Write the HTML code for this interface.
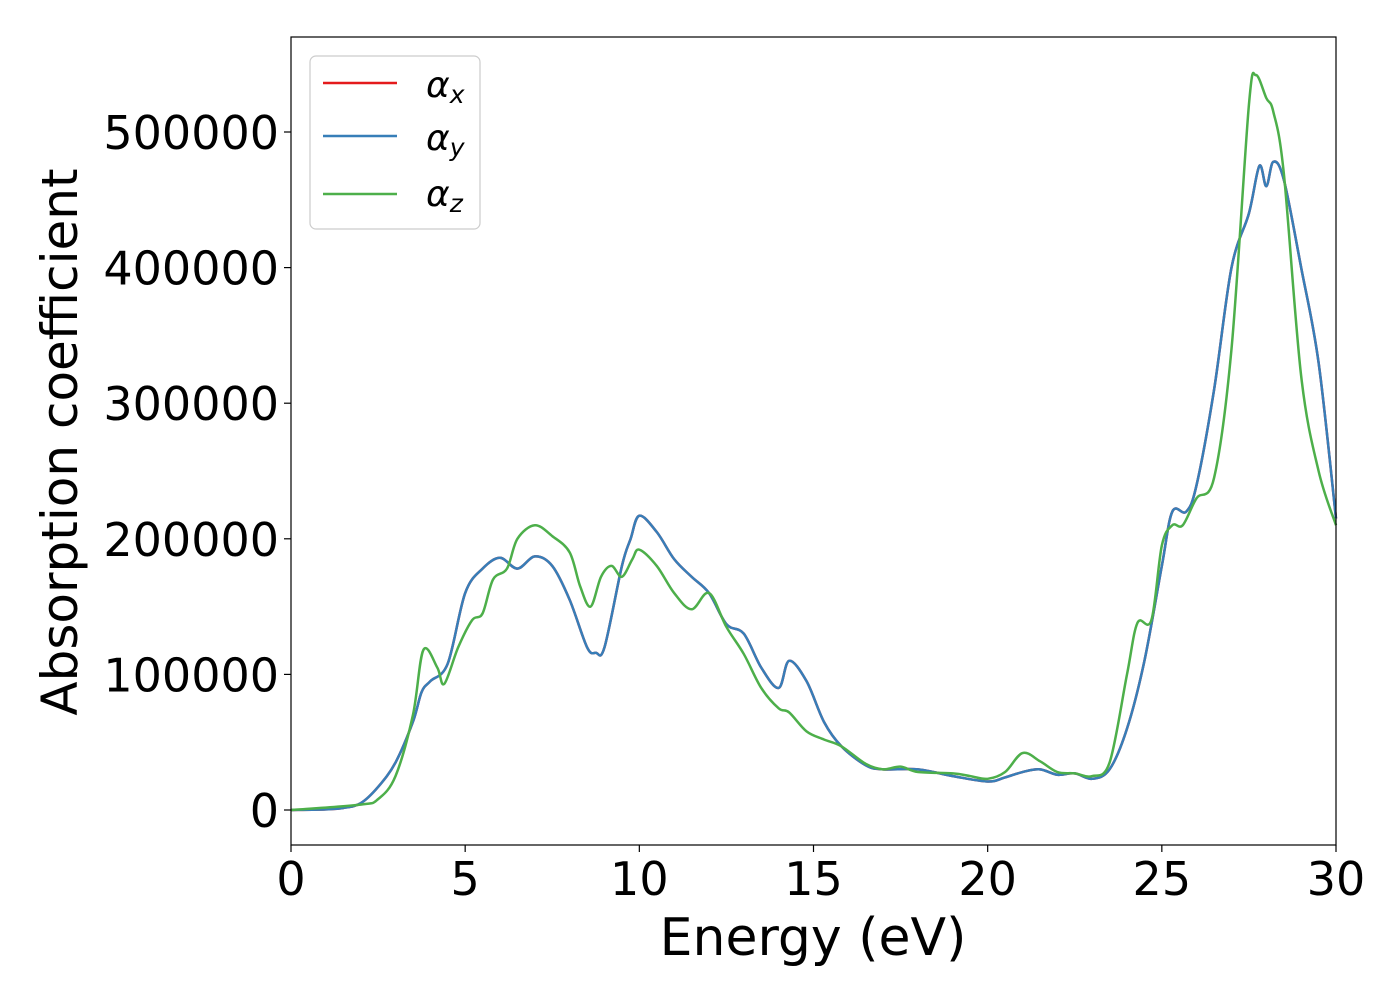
<!DOCTYPE html>
<html><head><meta charset="utf-8"><style>
html,body{margin:0;padding:0;background:#fff;}
svg{display:block;font-family:"DejaVu Sans","Liberation Sans",sans-serif;}
</style></head><body>
<svg id="chart" width="1400" height="1000" viewBox="0 0 1400 1000">
<rect x="0" y="0" width="1400" height="1000" fill="#fff"/>
<g id="series"></g>
<rect x="291" y="37" width="1045" height="808" fill="none" stroke="#000" stroke-width="1.2"/>
<g id="ticks"></g>
<text x="813" y="955" font-size="52" text-anchor="middle">Energy (eV)</text>
<text transform="translate(77,442) rotate(-90)" font-size="50" text-anchor="middle">Absorption coefficient</text>
<g>
<rect x="310" y="56" width="170" height="173" rx="6" fill="#fff" stroke="#ccc" stroke-width="1.2"/>
<line x1="323" y1="83" x2="397" y2="83" stroke="#e41a1c" stroke-width="2.5"/>
<line x1="323" y1="136" x2="397" y2="136" stroke="#377eb8" stroke-width="2.5"/>
<line x1="323" y1="194" x2="397" y2="194" stroke="#4daf4a" stroke-width="2.5"/>
<text x="426" y="97" font-size="36" font-style="italic">α<tspan font-size="25" dy="6">x</tspan></text>
<text x="426" y="150" font-size="36" font-style="italic">α<tspan font-size="25" dy="6">y</tspan></text>
<text x="426" y="206" font-size="36" font-style="italic">α<tspan font-size="25" dy="6">z</tspan></text>
</g>
</svg>
<script>
const xTicks=[0,5,10,15,20,25,30];
const yTicks=[0,100000,200000,300000,400000,500000];
const energyXY=[0,1,1.5,2,2.5,3,3.5,3.75,4,4.5,5,5.5,6,6.5,7,7.5,8,8.5,8.75,9,9.5,9.75,10,10.5,11,11.5,12,12.5,13,13.5,14,14.3,14.8,15.3,15.8,16.5,17,18,19,20,20.5,21,21.5,22,22.5,23,23.5,24,24.5,25,25.3,25.7,26,26.5,27,27.5,27.8,28,28.2,28.5,29,29.5,30];
const alphaX=[0,500,1500,5000,17000,35000,65000,87000,95000,108000,160000,178000,186000,178000,187000,180000,155000,120000,116000,120000,180000,200000,217000,205000,185000,172000,160000,137000,130000,105000,90000,110000,95000,65000,47000,33000,30000,30000,25000,21000,24000,28000,30000,26000,27000,23000,30000,60000,110000,180000,220000,220000,240000,310000,400000,440000,475000,460000,478000,465000,400000,330000,215000];
const alphaY=[0,500,1500,5000,17000,35000,65000,87000,95000,108000,160000,178000,186000,178000,187000,180000,155000,120000,116000,120000,180000,200000,217000,205000,185000,172000,160000,137000,130000,105000,90000,110000,95000,65000,47000,33000,30000,30000,25000,21000,24000,28000,30000,26000,27000,23000,30000,60000,110000,180000,220000,220000,240000,310000,400000,440000,475000,460000,478000,465000,400000,330000,215000];
const energyZ=[0,2,2.5,3,3.5,3.8,4.2,4.4,4.8,5.2,5.5,5.8,6.2,6.5,7,7.5,8,8.3,8.6,8.9,9.2,9.5,9.8,10,10.5,11,11.5,12,12.5,13,13.5,14,14.3,14.8,15.3,15.8,16.5,17,17.5,18,19,19.5,20,20.5,21,21.5,22,22.5,23,23.5,24,24.3,24.7,25,25.3,25.6,26,26.5,27,27.5,27.7,28,28.2,28.5,29,29.5,30];
const alphaZ=[0,4000,8000,25000,70000,118000,105000,93000,120000,140000,145000,170000,178000,200000,210000,202000,190000,165000,150000,172000,180000,172000,185000,192000,180000,160000,148000,160000,135000,115000,90000,75000,72000,58000,52000,47000,34000,30000,32000,28000,27000,25000,23000,28000,42000,36000,28000,27000,25000,35000,100000,138000,140000,195000,210000,210000,230000,245000,340000,520000,542000,525000,515000,470000,320000,250000,210000];
const NS="http://www.w3.org/2000/svg";
const X0=291,X1=1336,Y0=810,YPER=135.6/100000;
function sx(v){return X0+(X1-X0)*v/30;}
function sy(v){return Y0-v*YPER;}
function pathFor(xs,ys){
  const p=xs.map((x,i)=>[sx(x),sy(ys[i])]);
  let d="M"+p[0][0]+","+p[0][1];
  for(let i=0;i<p.length-1;i++){
    const a=p[i-1]||p[i],b=p[i],c=p[i+1],e=p[i+2]||c;
    const c1x=b[0]+(c[0]-a[0])/6,c1y=b[1]+(c[1]-a[1])/6;
    const c2x=c[0]-(e[0]-b[0])/6,c2y=c[1]-(e[1]-b[1])/6;
    d+=" C"+c1x+","+c1y+" "+c2x+","+c2y+" "+c[0]+","+c[1];
  }
  return d;
}
const g=document.getElementById("series");
[[energyXY,alphaX,"#e41a1c","series-alpha-x"],[energyXY,alphaY,"#377eb8","series-alpha-y"],[energyZ,alphaZ,"#4daf4a","series-alpha-z"]].forEach(s=>{
  const el=document.createElementNS(NS,"path");
  el.setAttribute("d",pathFor(s[0],s[1]));
  el.setAttribute("fill","none");
  el.setAttribute("stroke",s[2]);
  el.setAttribute("stroke-width","2.5");
  
  
  g.appendChild(el);
});
const t=document.getElementById("ticks");
xTicks.forEach(v=>{
  const l=document.createElementNS(NS,"line");
  l.setAttribute("x1",sx(v));l.setAttribute("x2",sx(v));l.setAttribute("y1",845);l.setAttribute("y2",852);
  l.setAttribute("stroke","#000");l.setAttribute("stroke-width","1.2");
  
  
  t.appendChild(l);
  const tx=document.createElementNS(NS,"text");
  tx.setAttribute("x",sx(v));tx.setAttribute("y",895);tx.setAttribute("font-size","46");tx.setAttribute("text-anchor","middle");
  tx.textContent=v;
  
  
  t.appendChild(tx);
});
yTicks.forEach(v=>{
  const l=document.createElementNS(NS,"line");
  l.setAttribute("x1",284);l.setAttribute("x2",291);l.setAttribute("y1",sy(v));l.setAttribute("y2",sy(v));
  l.setAttribute("stroke","#000");l.setAttribute("stroke-width","1.2");
  
  
  t.appendChild(l);
  const tx=document.createElementNS(NS,"text");
  tx.setAttribute("x",279);tx.setAttribute("y",sy(v)+17);tx.setAttribute("font-size","46");tx.setAttribute("text-anchor","end");
  tx.textContent=v;
  
  
  t.appendChild(tx);
});
</script>
</body></html>
